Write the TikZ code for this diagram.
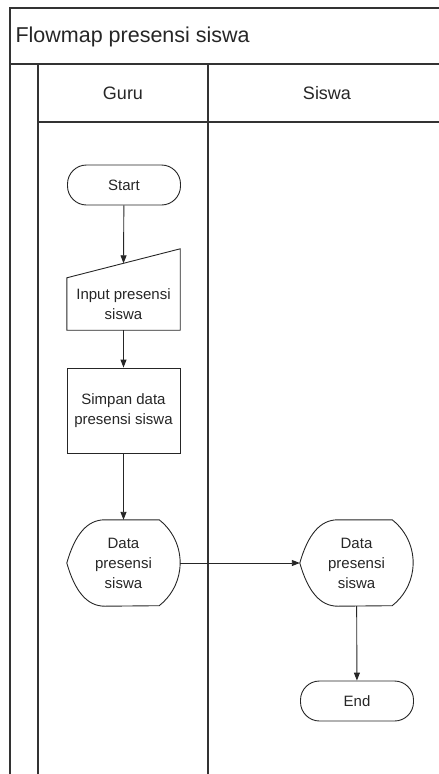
\documentclass[tikz,border=0pt]{standalone}
\usepackage{fontspec}
\setmainfont{Liberation Sans}
\usepackage{tikz}
\usetikzlibrary{arrows.meta,calc}

\begin{document}
\begin{tikzpicture}[
    x=1pt, y=-1pt,
    every node/.style={font=\fontsize{15}{20}\selectfont, text=black!85},
    lane/.style={line width=1.3pt, draw=black!80},
    line/.style={line width=0.9pt, draw=black!85},
    flow/.style={line width=0.9pt, draw=black!85, -{Triangle[length=8pt, width=6pt]}},
    terminal/.style={line, rectangle, rounded corners=19pt, minimum width=113pt, minimum height=40pt, inner sep=0pt},
    process/.style={line, rectangle, minimum width=113pt, minimum height=85pt, align=center, inner sep=0pt},
    manual/.style={rectangle, minimum width=113pt, minimum height=52pt, align=center, inner sep=0pt},
    display/.style={rectangle, minimum width=113pt, minimum height=86pt, align=center, inner sep=0pt}
]
\useasboundingbox (0,0) rectangle (439,774);

% Pool and lanes
\draw[lane] (439,8) -- (10,8) -- (10,774);
\draw[lane] (10,64) -- (439,64);
\draw[lane] (38,64) -- (38,774);
\draw[lane] (208,64) -- (208,774);
\draw[lane] (38,122) -- (439,122);

\node[anchor=west, font=\fontsize{21.5}{26}\selectfont] (title) at (12,37) {Flowmap presensi siswa};
\node[font=\fontsize{18}{22}\selectfont] (guru) at (123,93) {Guru};
\node[font=\fontsize{18}{22}\selectfont] (siswa) at (327,93) {Siswa};

% Nodes
\node[terminal] (start) at (124,185) {Start};
\node[manual] (input) at (123.5,304) {Input presensi\\siswa};
\node[process] (simpan) at (123.5,410.5) {Simpan data\\presensi siswa};
\node[display] (dataguru) at (123.5,563) {Data\\presensi\\siswa};
\node[display] (datasiswa) at (356.5,563) {Data\\presensi\\siswa};
\node[terminal] (end) at (357,701) {End};

% Manual input outline (slanted top)
\draw[line] (input.north west) -- (input.south west) -- (input.south east)
    -- ([yshift=29pt]input.north east) -- cycle;
\coordinate (inputtop) at ($(input.north west)!0.5!([yshift=29pt]input.north east)$);

% Display outlines
\foreach \n in {dataguru, datasiswa} {
    \draw[line] (\n.west) .. controls ([shift={(8pt,28pt)}]\n.west) and ([xshift=20pt]\n.north west) .. ([xshift=38pt]\n.north west)
        -- ([xshift=-21pt]\n.north east) arc[start angle=52, end angle=-52, radius=54.5pt]
        -- ([xshift=38pt]\n.south west) .. controls ([xshift=20pt]\n.south west) and ([shift={(8pt,-28pt)}]\n.west) .. (\n.west);
}

% Flows
\draw[flow] (start) -- (inputtop);
\draw[flow] (input) -- (simpan);
\draw[flow] (simpan) -- (dataguru);
\draw[flow] (dataguru) -- (datasiswa);
\draw[flow] (datasiswa) -- (end);

\end{tikzpicture}
\end{document}
